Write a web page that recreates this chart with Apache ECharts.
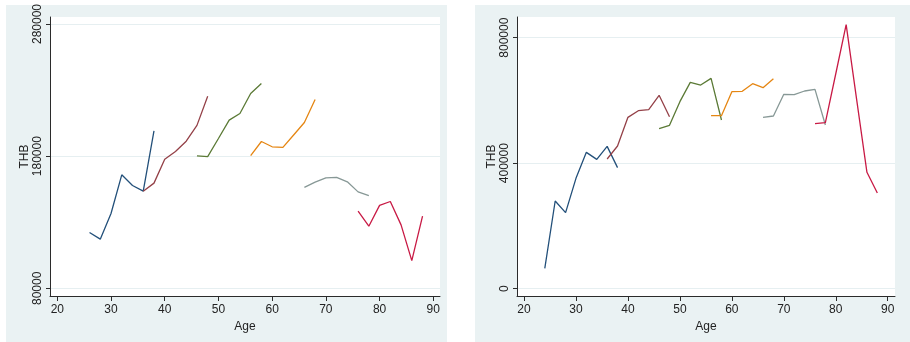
<!DOCTYPE html>
<html><head><meta charset="utf-8">
<script src="https://cdn.jsdelivr.net/npm/echarts@6/dist/echarts.min.js"></script>
<style>html,body{margin:0;padding:0;background:#fff}#c{width:910px;height:342px}</style>
</head><body><div id="c"></div>
<script>
// ---- data ----
const xTicks = [20,30,40,50,60,70,80,90];
const yTicksLeft = [80000,180000,280000];
const yTicksRight = [0,400000,800000];
const colors = ['#23507a','#944148','#5b7a36','#e58613','#879896','#c81a45'];

const agesA_L = [26,28,30,32,34,36,38];
const agesA_R = [24,26,28,30,32,34,36,38];
const agesB = [36,38,40,42,44,46,48];
const agesC = [46,48,50,52,54,56,58];
const agesD = [56,58,60,62,64,66,68];
const agesE = [66,68,70,72,74,76,78];
const agesF = [76,78,80,82,84,86,88];

const leftA = [122300,117200,136600,165900,157800,153500,199200];
const leftB = [153500,159600,177700,183500,191300,203300,225400];
const leftC = [180200,179600,193400,207300,212300,227400,235000];
const leftD = [180400,191100,187100,186600,196000,205500,222900];
const leftE = [156400,160300,163600,163900,160600,153000,150200];
const leftF = [138500,127000,142800,145700,128000,101000,134600];

const rightA = [64800,279400,242200,351700,434500,412200,453600,385700];
const rightB = [413300,454700,546100,567300,570500,616200,548200];
const rightC = [510000,520600,596000,657600,649100,670400,537600];
const rightD = [551400,551400,627900,629000,653400,640600,669300];
const rightE = [546100,550300,619400,618300,630000,635300,521600];
const rightF = [525900,529100,685000,841400,605000,370800,304900];

const leftSets = [[agesA_L,leftA],[agesB,leftB],[agesC,leftC],[agesD,leftD],[agesE,leftE],[agesF,leftF]];
const rightSets = [[agesA_R,rightA],[agesB,rightB],[agesC,rightC],[agesD,rightD],[agesE,rightE],[agesF,rightF]];

// ---- chart ----
const FONT = 'Liberation Sans, Arial, sans-serif';
const gridLineColor = '#e6eff1';
const axisColor = '#2b2b2b';
function xAxis(gi, min, max){
  return {type:'value', gridIndex:gi, min:min, max:max,
    name:'Age', nameLocation:'middle', nameGap:19,
    nameTextStyle:{fontFamily:FONT,fontSize:12,color:'#222'},
    axisLine:{show:true,onZero:false,lineStyle:{color:axisColor,width:1}},
    axisTick:{show:true,length:5,customValues:xTicks,lineStyle:{color:axisColor}},
    axisLabel:{customValues:xTicks,formatter:v=>String(v),fontFamily:FONT,fontSize:12,color:'#222',margin:8},
    splitLine:{show:false}};
}
function yAxis(gi, min, max, ticks, gap){
  return {type:'value', gridIndex:gi, min:min, max:max,
    name:'THB', nameLocation:'middle', nameGap:gap, nameRotate:90,
    nameTextStyle:{fontFamily:FONT,fontSize:12,color:'#222'},
    axisLine:{show:true,onZero:false,lineStyle:{color:axisColor,width:1}},
    axisTick:{show:true,length:4,customValues:ticks,lineStyle:{color:axisColor}},
    axisLabel:{customValues:ticks,formatter:v=>String(v),rotate:90,fontFamily:FONT,fontSize:12,color:'#222',margin:6},
    splitLine:{show:true,lineStyle:{color:gridLineColor,width:1}}};
}
const series = [];
leftSets.forEach((s,i)=>{
  series.push({type:'line',xAxisIndex:0,yAxisIndex:0,symbol:'none',silent:true,
    lineStyle:{color:colors[i],width:1.3},data:s[0].map((a,j)=>[a,s[1][j]])});
});
rightSets.forEach((s,i)=>{
  series.push({type:'line',xAxisIndex:1,yAxisIndex:1,symbol:'none',silent:true,
    lineStyle:{color:colors[i],width:1.3},data:s[0].map((a,j)=>[a,s[1][j]])});
});
const chart = echarts.init(document.getElementById('c'),null,{renderer:'canvas'});
chart.setOption({
  animation:false,
  backgroundColor:'#ffffff',
  graphic:[
    {type:'rect',z:-10,shape:{x:6,y:5,width:441,height:337},style:{fill:'#eaf2f3'}},
    {type:'rect',z:-10,shape:{x:475,y:5,width:435,height:337},style:{fill:'#eaf2f3'}}
  ],
  grid:[
    {left:50,top:17,width:390,height:279,show:true,backgroundColor:'#fff',borderWidth:0},
    {left:517,top:17,width:378,height:279,show:true,backgroundColor:'#fff',borderWidth:0}
  ],
  xAxis:[xAxis(0,18.64,91.25), xAxis(1,18.65,91.4)],
  yAxis:[yAxis(0,74200,285300,yTicksLeft,18), yAxis(1,-23400,865900,yTicksRight,16)],
  series:series
});
</script></body></html>
